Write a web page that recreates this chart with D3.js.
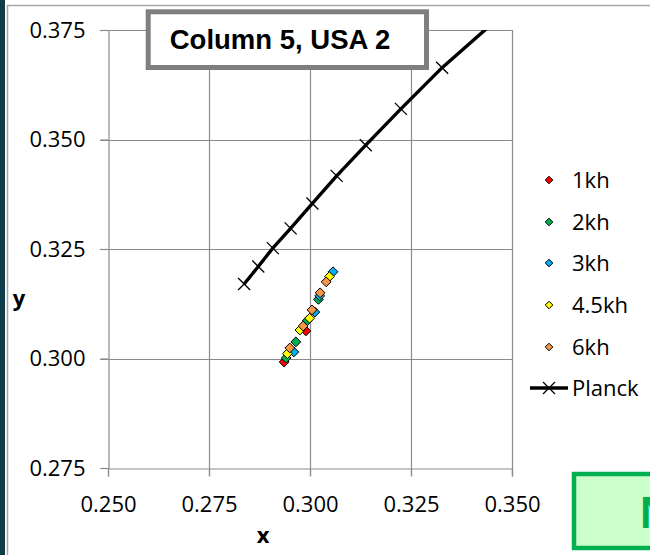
<!DOCTYPE html>
<html><head><meta charset="utf-8">
<script src="https://cdn.jsdelivr.net/npm/d3@7"></script>
<style>html,body{margin:0;padding:0;background:#fff;}svg{display:block;}</style>
</head><body>
<script>
// ---- data ----
const xTicks = [0.250, 0.275, 0.300, 0.325, 0.350];
const yTicks = [0.275, 0.300, 0.325, 0.350, 0.375];
const seriesNames = ["1kh", "2kh", "3kh", "4.5kh", "6kh"];
const seriesColors = ["#ff0000", "#00b050", "#00b0f0", "#ffff00", "#f79646"];
const s1kh_x = [0.2936, 0.2990];
const s1kh_y = [0.2992, 0.3063];
const s2kh_x = [0.2941, 0.2965, 0.2993, 0.3021];
const s2kh_y = [0.3001, 0.3038, 0.3086, 0.3135];
const s3kh_x = [0.2960, 0.3012, 0.3024, 0.3057];
const s3kh_y = [0.3015, 0.3106, 0.3143, 0.3198];
const s45kh_x = [0.2944, 0.2975, 0.2999, 0.3048];
const s45kh_y = [0.3011, 0.3065, 0.3092, 0.3187];
const s6kh_x = [0.2950, 0.2983, 0.3005, 0.3025, 0.3040];
const s6kh_y = [0.3024, 0.3074, 0.3111, 0.3150, 0.3175];
const planck_x = [0.2837, 0.2872, 0.2908, 0.2952, 0.3006, 0.3066, 0.3138, 0.3225, 0.3327, 0.3470];
const planck_y = [0.3170, 0.3210, 0.3252, 0.3297, 0.3354, 0.3417, 0.3487, 0.3570, 0.3664, 0.3780];
const titleText = "Column 5, USA 2";

const seriesX = [s1kh_x, s2kh_x, s3kh_x, s45kh_x, s6kh_x];
const seriesY = [s1kh_y, s2kh_y, s3kh_y, s45kh_y, s6kh_y];

const W = 650, H = 555;
const svg = d3.select("body").append("svg").attr("width", W).attr("height", H);
const FONT = "'Open Sans', 'Noto Sans', sans-serif";

// frame
svg.append("rect").attr("x", 0).attr("y", 0).attr("width", 5).attr("height", H).attr("fill", "#0e3c4a");
svg.append("line").attr("x1", 7.5).attr("x2", 7.5).attr("y1", 5).attr("y2", H).attr("stroke", "#a6a6a6").attr("stroke-width", 1.5);
svg.append("line").attr("x1", 7).attr("x2", W).attr("y1", 5.5).attr("y2", 5.5).attr("stroke", "#a6a6a6").attr("stroke-width", 1.5);

const x = d3.scaleLinear().domain([0.25, 0.35]).range([108, 512]);
const y = d3.scaleLinear().domain([0.275, 0.375]).range([468, 30]);

// gridlines
const grid = svg.append("g");
grid.selectAll(".vg").data(xTicks.slice(1)).enter().append("line")
  .attr("x1", d => Math.round(x(d)) + 0.5).attr("x2", d => Math.round(x(d)) + 0.5)
  .attr("y1", y(0.375)).attr("y2", y(0.275) + 8)
  .attr("stroke", "#8c8c8c").attr("stroke-width", 1.2);
grid.selectAll(".hg").data(yTicks.slice(1)).enter().append("line")
  .attr("y1", d => Math.round(y(d)) + 0.5).attr("y2", d => Math.round(y(d)) + 0.5)
  .attr("x1", x(0.25) - 8).attr("x2", x(0.35))
  .attr("stroke", "#8c8c8c").attr("stroke-width", 1.2);

// axes
const xAxis = d3.axisBottom(x).tickValues(xTicks).tickFormat(d3.format(".3f")).tickSize(8).tickPadding(15);
const yAxis = d3.axisLeft(y).tickValues(yTicks).tickFormat(d3.format(".3f")).tickSize(8).tickPadding(15);
const gx = svg.append("g").attr("transform", `translate(0,${Math.round(y(0.275)) + 0.5})`).call(xAxis);
const gy = svg.append("g").attr("transform", `translate(${Math.round(x(0.25)) + 0.5},0)`).call(yAxis);
[gx, gy].forEach(g => {
  g.select(".domain").attr("stroke", "#8c8c8c").attr("stroke-width", 1.2);
  g.selectAll(".tick line").attr("stroke", "#8c8c8c").attr("stroke-width", 1.2);
  g.selectAll(".tick text").attr("fill", "#000").style("font-family", FONT).style("font-size", "22px");
});
gx.selectAll(".tick text").attr("dy", "0.95em");

// axis titles
svg.append("text").attr("x", 263).attr("y", 543).attr("text-anchor", "middle")
  .style("font-family", FONT).style("font-size", "22px").style("font-weight", "bold").text("x");
svg.append("text").attr("x", 19).attr("y", 306).attr("text-anchor", "middle")
  .style("font-family", FONT).style("font-size", "22px").style("font-weight", "bold").text("y");

// clip
svg.append("clipPath").attr("id", "plotclip").append("rect")
  .attr("x", x(0.25)).attr("y", y(0.375)).attr("width", x(0.35) - x(0.25)).attr("height", y(0.275) - y(0.375));
const plot = svg.append("g").attr("clip-path", "url(#plotclip)");

// Planck line
const pts = planck_x.map((v, i) => [v, planck_y[i]]);
plot.append("path").datum(pts)
  .attr("d", d3.line().x(d => x(d[0])).y(d => y(d[1])))
  .attr("fill", "none").attr("stroke", "#000").attr("stroke-width", 3.4).attr("stroke-linejoin", "round");
const xm = 6;
plot.selectAll(".pm").data(pts).enter().append("path")
  .attr("d", d => {
    const cx = x(d[0]), cy = y(d[1]);
    return `M${cx - xm},${cy - xm}L${cx + xm},${cy + xm}M${cx - xm},${cy + xm}L${cx + xm},${cy - xm}`;
  })
  .attr("stroke", "#000").attr("stroke-width", 1.3).attr("fill", "none");

// scatter series
function diamond(cx, cy, r) {
  return `M${cx},${cy - r}L${cx + r},${cy}L${cx},${cy + r}L${cx - r},${cy}Z`;
}
seriesNames.forEach((name, si) => {
  const data = seriesX[si].map((v, i) => [v, seriesY[si][i]]);
  plot.append("g").selectAll("path").data(data).enter().append("path")
    .attr("d", d => diamond(x(d[0]), y(d[1]), 4.9))
    .attr("fill", seriesColors[si]).attr("stroke", "#000").attr("stroke-width", 1);
});

// title box
svg.append("rect").attr("x", 148.2).attr("y", 11.8).attr("width", 278.3).attr("height", 55.7)
  .attr("fill", "#fff").attr("stroke", "#7f7f7f").attr("stroke-width", 5);
svg.append("text").attr("x", 280).attr("y", 48.5).attr("text-anchor", "middle")
  .style("font-family", "'Liberation Sans', Arial, sans-serif").style("font-size", "27.5px").style("font-weight", "bold")
  .text(titleText);

// legend
const legendY = [180, 222, 263, 305, 347];
const lg = svg.append("g");
seriesNames.forEach((name, i) => {
  lg.append("path").attr("d", diamond(549, legendY[i], 3.8))
    .attr("fill", seriesColors[i]).attr("stroke", "#000").attr("stroke-width", 1);
  lg.append("text").attr("x", 572).attr("y", legendY[i]).attr("dy", "0.36em")
    .style("font-family", FONT).style("font-size", "22px").text(name);
});
const py = 388;
lg.append("line").attr("x1", 530).attr("x2", 568).attr("y1", py).attr("y2", py).attr("stroke", "#000").attr("stroke-width", 3.4);
lg.append("path").attr("d", `M${549 - 6},${py - 6}L${549 + 6},${py + 6}M${549 - 6},${py + 6}L${549 + 6},${py - 6}`)
  .attr("stroke", "#000").attr("stroke-width", 1.3);
lg.append("text").attr("x", 572).attr("y", py).attr("dy", "0.36em")
  .style("font-family", FONT).style("font-size", "22px").text("Planck");

// green box (partially visible, cut off at the right edge as in the reference)
svg.append("rect").attr("x", 574).attr("y", 474).attr("width", 100).attr("height", 74)
  .attr("fill", "#ccffcc").attr("stroke", "#00b050").attr("stroke-width", 4.5);
svg.append("text").attr("x", 640).attr("y", 528)
  .style("font-family", "'Liberation Sans', Arial, sans-serif").style("font-size", "44px").style("font-weight", "bold")
  .attr("fill", "#00b050").text("N");
</script>
</body></html>
